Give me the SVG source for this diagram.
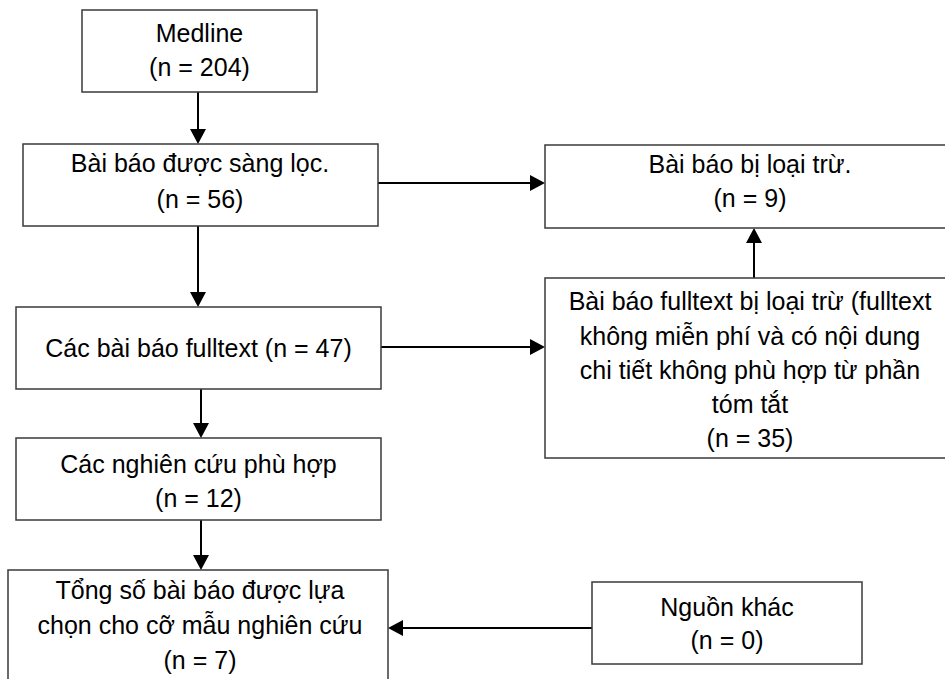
<svg xmlns="http://www.w3.org/2000/svg" width="945" height="679" viewBox="0 0 945 679">
<style>
.box{fill:#fff;stroke:#3a3a3a;stroke-width:1.5}
.t{font-family:"Liberation Sans",Arial,sans-serif;font-size:25px;fill:#000;text-anchor:middle}
.c{stroke:#000;stroke-width:2;fill:none;marker-end:url(#ah)}
</style>
<defs>
<marker id="ah" markerUnits="userSpaceOnUse" markerWidth="16" markerHeight="16" refX="5" refY="8" orient="auto">
<path d="M0,0 L15,8 L0,16 Z" fill="#000"/>
</marker>
</defs>
<rect width="945" height="679" fill="#fff"/>
<g id="connectors">
<line class="c" x1="198" y1="92" x2="198" y2="134"/>
<line class="c" x1="378" y1="183" x2="535" y2="183"/>
<line class="c" x1="198" y1="226" x2="198" y2="297"/>
<line class="c" x1="754" y1="278" x2="754" y2="238"/>
<line class="c" x1="381" y1="347" x2="535" y2="347"/>
<line class="c" x1="201" y1="389" x2="201" y2="428"/>
<line class="c" x1="201" y1="520" x2="201" y2="560"/>
<line class="c" x1="592" y1="628" x2="398" y2="628"/>
</g>
<g id="medline">
<rect class="box" x="82" y="10" width="235" height="82"/>
<text class="t" x="199.5" y="42">Medline</text>
<text class="t" x="199.5" y="76">(n = 204)</text>
</g>
<g id="screened">
<rect class="box" x="23" y="144" width="355" height="82"/>
<text class="t" x="200" y="172">Bài báo được sàng lọc.</text>
<text class="t" x="200" y="208">(n = 56)</text>
</g>
<g id="excluded">
<rect class="box" x="545" y="145" width="410" height="83"/>
<text class="t" x="750" y="173">Bài báo bị loại trừ.</text>
<text class="t" x="750" y="207">(n = 9)</text>
</g>
<g id="fulltext-excluded">
<rect class="box" x="545" y="278" width="410" height="180"/>
<text class="t" x="750" y="310">Bài báo fulltext bị loại trừ (fulltext</text>
<text class="t" x="750" y="344.5">không miễn phí và có nội dung</text>
<text class="t" x="750" y="379">chi tiết không phù hợp từ phần</text>
<text class="t" x="750" y="413">tóm tắt</text>
<text class="t" x="750" y="447">(n = 35)</text>
</g>
<g id="fulltext">
<rect class="box" x="16" y="307" width="365" height="82"/>
<text class="t" x="198.5" y="357">Các bài báo fulltext (n = 47)</text>
</g>
<g id="eligible">
<rect class="box" x="16" y="438" width="365" height="82"/>
<text class="t" x="198.5" y="473">Các nghiên cứu phù hợp</text>
<text class="t" x="198.5" y="507">(n = 12)</text>
</g>
<g id="included">
<rect class="box" x="8" y="570" width="380" height="120"/>
<text class="t" x="200" y="599">Tổng số bài báo được lựa</text>
<text class="t" x="200" y="634">chọn cho cỡ mẫu nghiên cứu</text>
<text class="t" x="200" y="669">(n = 7)</text>
</g>
<g id="other-sources">
<rect class="box" x="592" y="582" width="270" height="82"/>
<text class="t" x="727" y="616">Nguồn khác</text>
<text class="t" x="727" y="649">(n = 0)</text>
</g>
</svg>
